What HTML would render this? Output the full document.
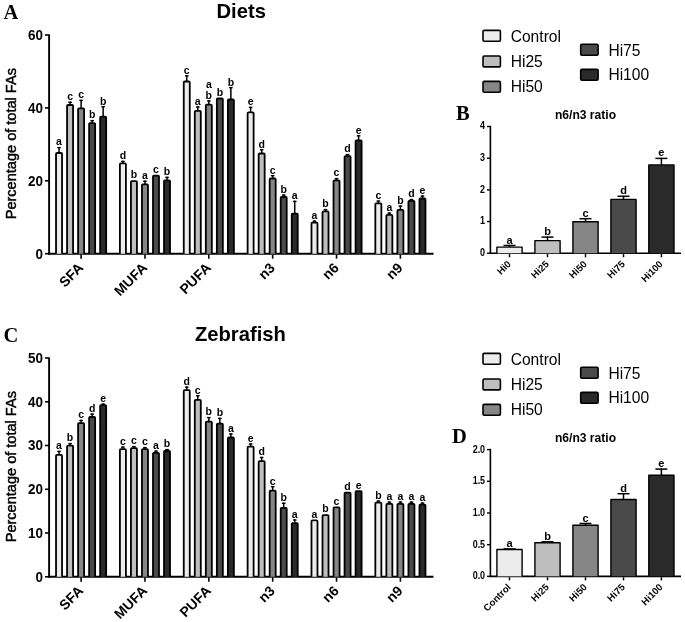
<!DOCTYPE html>
<html><head><meta charset="utf-8"><style>
html,body{margin:0;padding:0;background:#fff;}
svg{display:block;will-change:transform;}
</style></head><body>
<svg width="685" height="622" viewBox="0 0 685 622">
<rect width="685" height="622" fill="#fff"/>
<line x1="49.1" y1="34.5" x2="49.1" y2="254.64999999999998" stroke="#000" stroke-width="1.9" stroke-linecap="butt"/>
<line x1="48.15" y1="253.7" x2="433.5" y2="253.7" stroke="#000" stroke-width="1.9" stroke-linecap="butt"/>
<line x1="45" y1="253.7" x2="49.1" y2="253.7" stroke="#000" stroke-width="1.6" stroke-linecap="butt"/>
<text transform="translate(42.90,258.65) scale(0.89,1)" font-family='"Liberation Sans", sans-serif' font-size="15.1" font-weight="bold" text-anchor="end" >0</text>
<line x1="45" y1="180.8" x2="49.1" y2="180.8" stroke="#000" stroke-width="1.6" stroke-linecap="butt"/>
<text transform="translate(42.90,185.75) scale(0.89,1)" font-family='"Liberation Sans", sans-serif' font-size="15.1" font-weight="bold" text-anchor="end" >20</text>
<line x1="45" y1="107.9" x2="49.1" y2="107.9" stroke="#000" stroke-width="1.6" stroke-linecap="butt"/>
<text transform="translate(42.90,112.85) scale(0.89,1)" font-family='"Liberation Sans", sans-serif' font-size="15.1" font-weight="bold" text-anchor="end" >40</text>
<line x1="45" y1="35.0" x2="49.1" y2="35.0" stroke="#000" stroke-width="1.6" stroke-linecap="butt"/>
<text transform="translate(42.90,39.95) scale(0.89,1)" font-family='"Liberation Sans", sans-serif' font-size="15.1" font-weight="bold" text-anchor="end" >60</text>
<line x1="81.1" y1="254.6" x2="81.1" y2="258.7" stroke="#000" stroke-width="1.6" stroke-linecap="butt"/>
<path d="M56.04,253.70 V153.90 Q56.04,153.00 56.94,153.00 H61.14 Q62.04,153.00 62.04,153.90 V253.70" fill="#ececec" stroke="#000" stroke-width="1.8" stroke-linejoin="round"/>
<line x1="59.03999999999999" y1="152.6" x2="59.03999999999999" y2="146.9" stroke="#000" stroke-width="1.5" stroke-linecap="butt"/>
<line x1="57.239999999999995" y1="147.6" x2="60.83999999999999" y2="147.6" stroke="#000" stroke-width="1.4" stroke-linecap="butt"/>
<text x="59.03999999999999" y="145.4" font-family='"Liberation Sans", sans-serif' font-size="10.5" font-weight="bold" text-anchor="middle" >a</text>
<path d="M67.07,253.70 V105.90 Q67.07,105.00 67.97,105.00 H72.17 Q73.07,105.00 73.07,105.90 V253.70" fill="#bebebe" stroke="#000" stroke-width="1.8" stroke-linejoin="round"/>
<line x1="70.07" y1="104.60000000000001" x2="70.07" y2="101.60000000000001" stroke="#000" stroke-width="1.5" stroke-linecap="butt"/>
<line x1="68.27" y1="102.30000000000001" x2="71.86999999999999" y2="102.30000000000001" stroke="#000" stroke-width="1.4" stroke-linecap="butt"/>
<text x="70.07" y="100.10000000000001" font-family='"Liberation Sans", sans-serif' font-size="10.5" font-weight="bold" text-anchor="middle" >c</text>
<path d="M78.10,253.70 V109.20 Q78.10,108.30 79.00,108.30 H83.20 Q84.10,108.30 84.10,109.20 V253.70" fill="#868686" stroke="#000" stroke-width="1.8" stroke-linejoin="round"/>
<line x1="81.1" y1="107.9" x2="81.1" y2="99.7" stroke="#000" stroke-width="1.5" stroke-linecap="butt"/>
<line x1="79.3" y1="100.4" x2="82.89999999999999" y2="100.4" stroke="#000" stroke-width="1.4" stroke-linecap="butt"/>
<text x="81.1" y="98.2" font-family='"Liberation Sans", sans-serif' font-size="10.5" font-weight="bold" text-anchor="middle" >c</text>
<path d="M89.13,253.70 V124.00 Q89.13,123.10 90.03,123.10 H94.23 Q95.13,123.10 95.13,124.00 V253.70" fill="#4a4a4a" stroke="#000" stroke-width="1.8" stroke-linejoin="round"/>
<line x1="92.13" y1="122.7" x2="92.13" y2="119.9" stroke="#000" stroke-width="1.5" stroke-linecap="butt"/>
<line x1="90.33" y1="120.60000000000001" x2="93.92999999999999" y2="120.60000000000001" stroke="#000" stroke-width="1.4" stroke-linecap="butt"/>
<text x="92.13" y="118.4" font-family='"Liberation Sans", sans-serif' font-size="10.5" font-weight="bold" text-anchor="middle" >b</text>
<path d="M100.16,253.70 V117.50 Q100.16,116.60 101.06,116.60 H105.26 Q106.16,116.60 106.16,117.50 V253.70" fill="#2a2a2a" stroke="#000" stroke-width="1.8" stroke-linejoin="round"/>
<line x1="103.16" y1="116.2" x2="103.16" y2="106.0" stroke="#000" stroke-width="1.5" stroke-linecap="butt"/>
<line x1="101.36" y1="106.7" x2="104.96" y2="106.7" stroke="#000" stroke-width="1.4" stroke-linecap="butt"/>
<text x="103.16" y="104.5" font-family='"Liberation Sans", sans-serif' font-size="10.5" font-weight="bold" text-anchor="middle" >b</text>
<text transform="translate(84.19999999999999,268.7) rotate(-45)" font-family='"Liberation Sans", sans-serif' font-size="14.0" font-weight="bold" text-anchor="end">SFA</text>
<line x1="144.95999999999998" y1="254.6" x2="144.95999999999998" y2="258.7" stroke="#000" stroke-width="1.6" stroke-linecap="butt"/>
<path d="M119.90,253.70 V164.20 Q119.90,163.30 120.80,163.30 H125.00 Q125.90,163.30 125.90,164.20 V253.70" fill="#ececec" stroke="#000" stroke-width="1.8" stroke-linejoin="round"/>
<line x1="122.89999999999998" y1="162.9" x2="122.89999999999998" y2="160.70000000000002" stroke="#000" stroke-width="1.5" stroke-linecap="butt"/>
<line x1="121.09999999999998" y1="161.4" x2="124.69999999999997" y2="161.4" stroke="#000" stroke-width="1.4" stroke-linecap="butt"/>
<text x="122.89999999999998" y="159.20000000000002" font-family='"Liberation Sans", sans-serif' font-size="10.5" font-weight="bold" text-anchor="middle" >d</text>
<path d="M130.93,253.70 V182.10 Q130.93,181.20 131.83,181.20 H136.03 Q136.93,181.20 136.93,182.10 V253.70" fill="#bebebe" stroke="#000" stroke-width="1.8" stroke-linejoin="round"/>
<text x="133.92999999999998" y="178.3" font-family='"Liberation Sans", sans-serif' font-size="10.5" font-weight="bold" text-anchor="middle" >b</text>
<path d="M141.96,253.70 V185.30 Q141.96,184.40 142.86,184.40 H147.06 Q147.96,184.40 147.96,185.30 V253.70" fill="#868686" stroke="#000" stroke-width="1.8" stroke-linejoin="round"/>
<line x1="144.95999999999998" y1="184.0" x2="144.95999999999998" y2="180.6" stroke="#000" stroke-width="1.5" stroke-linecap="butt"/>
<line x1="143.15999999999997" y1="181.29999999999998" x2="146.76" y2="181.29999999999998" stroke="#000" stroke-width="1.4" stroke-linecap="butt"/>
<text x="144.95999999999998" y="179.1" font-family='"Liberation Sans", sans-serif' font-size="10.5" font-weight="bold" text-anchor="middle" >a</text>
<path d="M152.99,253.70 V176.50 Q152.99,175.60 153.89,175.60 H158.09 Q158.99,175.60 158.99,176.50 V253.70" fill="#4a4a4a" stroke="#000" stroke-width="1.8" stroke-linejoin="round"/>
<text x="155.98999999999998" y="172.6" font-family='"Liberation Sans", sans-serif' font-size="10.5" font-weight="bold" text-anchor="middle" >c</text>
<path d="M164.02,253.70 V181.30 Q164.02,180.40 164.92,180.40 H169.12 Q170.02,180.40 170.02,181.30 V253.70" fill="#2a2a2a" stroke="#000" stroke-width="1.8" stroke-linejoin="round"/>
<line x1="167.01999999999998" y1="180.0" x2="167.01999999999998" y2="176.70000000000002" stroke="#000" stroke-width="1.5" stroke-linecap="butt"/>
<line x1="165.21999999999997" y1="177.4" x2="168.82" y2="177.4" stroke="#000" stroke-width="1.4" stroke-linecap="butt"/>
<text x="167.01999999999998" y="175.20000000000002" font-family='"Liberation Sans", sans-serif' font-size="10.5" font-weight="bold" text-anchor="middle" >b</text>
<text transform="translate(148.05999999999997,268.7) rotate(-45)" font-family='"Liberation Sans", sans-serif' font-size="14.0" font-weight="bold" text-anchor="end">MUFA</text>
<line x1="208.82" y1="254.6" x2="208.82" y2="258.7" stroke="#000" stroke-width="1.6" stroke-linecap="butt"/>
<path d="M183.76,253.70 V82.40 Q183.76,81.50 184.66,81.50 H188.86 Q189.76,81.50 189.76,82.40 V253.70" fill="#ececec" stroke="#000" stroke-width="1.8" stroke-linejoin="round"/>
<line x1="186.76" y1="81.10000000000001" x2="186.76" y2="75.2" stroke="#000" stroke-width="1.5" stroke-linecap="butt"/>
<line x1="184.95999999999998" y1="75.9" x2="188.56" y2="75.9" stroke="#000" stroke-width="1.4" stroke-linecap="butt"/>
<text x="186.76" y="73.7" font-family='"Liberation Sans", sans-serif' font-size="10.5" font-weight="bold" text-anchor="middle" >c</text>
<path d="M194.79,253.70 V111.70 Q194.79,110.80 195.69,110.80 H199.89 Q200.79,110.80 200.79,111.70 V253.70" fill="#bebebe" stroke="#000" stroke-width="1.8" stroke-linejoin="round"/>
<line x1="197.79" y1="110.4" x2="197.79" y2="106.30000000000001" stroke="#000" stroke-width="1.5" stroke-linecap="butt"/>
<line x1="195.98999999999998" y1="107.00000000000001" x2="199.59" y2="107.00000000000001" stroke="#000" stroke-width="1.4" stroke-linecap="butt"/>
<text x="197.79" y="104.80000000000001" font-family='"Liberation Sans", sans-serif' font-size="10.5" font-weight="bold" text-anchor="middle" >a</text>
<path d="M205.82,253.70 V105.60 Q205.82,104.70 206.72,104.70 H210.92 Q211.82,104.70 211.82,105.60 V253.70" fill="#868686" stroke="#000" stroke-width="1.8" stroke-linejoin="round"/>
<line x1="208.82" y1="104.30000000000001" x2="208.82" y2="100.30000000000001" stroke="#000" stroke-width="1.5" stroke-linecap="butt"/>
<line x1="207.01999999999998" y1="101.00000000000001" x2="210.62" y2="101.00000000000001" stroke="#000" stroke-width="1.4" stroke-linecap="butt"/>
<text x="208.82" y="98.60000000000001" font-family='"Liberation Sans", sans-serif' font-size="10.5" font-weight="bold" text-anchor="middle" >b</text>
<text x="208.82" y="88.4" font-family='"Liberation Sans", sans-serif' font-size="10.5" font-weight="bold" text-anchor="middle" >a</text>
<path d="M216.85,253.70 V99.40 Q216.85,98.50 217.75,98.50 H221.95 Q222.85,98.50 222.85,99.40 V253.70" fill="#4a4a4a" stroke="#000" stroke-width="1.8" stroke-linejoin="round"/>
<text x="219.85" y="96.2" font-family='"Liberation Sans", sans-serif' font-size="10.5" font-weight="bold" text-anchor="middle" >b</text>
<path d="M227.88,253.70 V100.40 Q227.88,99.50 228.78,99.50 H232.98 Q233.88,99.50 233.88,100.40 V253.70" fill="#2a2a2a" stroke="#000" stroke-width="1.8" stroke-linejoin="round"/>
<line x1="230.88" y1="99.10000000000001" x2="230.88" y2="87.0" stroke="#000" stroke-width="1.5" stroke-linecap="butt"/>
<line x1="229.07999999999998" y1="87.7" x2="232.68" y2="87.7" stroke="#000" stroke-width="1.4" stroke-linecap="butt"/>
<text x="230.88" y="85.5" font-family='"Liberation Sans", sans-serif' font-size="10.5" font-weight="bold" text-anchor="middle" >b</text>
<text transform="translate(211.92,268.7) rotate(-45)" font-family='"Liberation Sans", sans-serif' font-size="14.0" font-weight="bold" text-anchor="end">PUFA</text>
<line x1="272.67999999999995" y1="254.6" x2="272.67999999999995" y2="258.7" stroke="#000" stroke-width="1.6" stroke-linecap="butt"/>
<path d="M247.62,253.70 V113.30 Q247.62,112.40 248.52,112.40 H252.72 Q253.62,112.40 253.62,113.30 V253.70" fill="#ececec" stroke="#000" stroke-width="1.8" stroke-linejoin="round"/>
<line x1="250.61999999999995" y1="112.0" x2="250.61999999999995" y2="106.7" stroke="#000" stroke-width="1.5" stroke-linecap="butt"/>
<line x1="248.81999999999994" y1="107.4" x2="252.41999999999996" y2="107.4" stroke="#000" stroke-width="1.4" stroke-linecap="butt"/>
<text x="250.61999999999995" y="105.2" font-family='"Liberation Sans", sans-serif' font-size="10.5" font-weight="bold" text-anchor="middle" >e</text>
<path d="M258.65,253.70 V154.40 Q258.65,153.50 259.55,153.50 H263.75 Q264.65,153.50 264.65,154.40 V253.70" fill="#bebebe" stroke="#000" stroke-width="1.8" stroke-linejoin="round"/>
<line x1="261.65" y1="153.1" x2="261.65" y2="149.1" stroke="#000" stroke-width="1.5" stroke-linecap="butt"/>
<line x1="259.84999999999997" y1="149.79999999999998" x2="263.45" y2="149.79999999999998" stroke="#000" stroke-width="1.4" stroke-linecap="butt"/>
<text x="261.65" y="147.6" font-family='"Liberation Sans", sans-serif' font-size="10.5" font-weight="bold" text-anchor="middle" >d</text>
<path d="M269.68,253.70 V179.40 Q269.68,178.50 270.58,178.50 H274.78 Q275.68,178.50 275.68,179.40 V253.70" fill="#868686" stroke="#000" stroke-width="1.8" stroke-linejoin="round"/>
<line x1="272.67999999999995" y1="178.1" x2="272.67999999999995" y2="175.0" stroke="#000" stroke-width="1.5" stroke-linecap="butt"/>
<line x1="270.87999999999994" y1="175.7" x2="274.47999999999996" y2="175.7" stroke="#000" stroke-width="1.4" stroke-linecap="butt"/>
<text x="272.67999999999995" y="173.5" font-family='"Liberation Sans", sans-serif' font-size="10.5" font-weight="bold" text-anchor="middle" >c</text>
<path d="M280.71,253.70 V197.90 Q280.71,197.00 281.61,197.00 H285.81 Q286.71,197.00 286.71,197.90 V253.70" fill="#4a4a4a" stroke="#000" stroke-width="1.8" stroke-linejoin="round"/>
<line x1="283.7099999999999" y1="196.6" x2="283.7099999999999" y2="194.4" stroke="#000" stroke-width="1.5" stroke-linecap="butt"/>
<line x1="281.9099999999999" y1="195.1" x2="285.50999999999993" y2="195.1" stroke="#000" stroke-width="1.4" stroke-linecap="butt"/>
<text x="283.7099999999999" y="192.9" font-family='"Liberation Sans", sans-serif' font-size="10.5" font-weight="bold" text-anchor="middle" >b</text>
<path d="M291.74,253.70 V214.60 Q291.74,213.70 292.64,213.70 H296.84 Q297.74,213.70 297.74,214.60 V253.70" fill="#2a2a2a" stroke="#000" stroke-width="1.8" stroke-linejoin="round"/>
<line x1="294.7399999999999" y1="213.3" x2="294.7399999999999" y2="200.70000000000002" stroke="#000" stroke-width="1.5" stroke-linecap="butt"/>
<line x1="292.9399999999999" y1="201.4" x2="296.5399999999999" y2="201.4" stroke="#000" stroke-width="1.4" stroke-linecap="butt"/>
<text x="294.7399999999999" y="199.20000000000002" font-family='"Liberation Sans", sans-serif' font-size="10.5" font-weight="bold" text-anchor="middle" >a</text>
<text transform="translate(275.78,268.7) rotate(-45)" font-family='"Liberation Sans", sans-serif' font-size="14.0" font-weight="bold" text-anchor="end">n3</text>
<line x1="336.53999999999996" y1="254.6" x2="336.53999999999996" y2="258.7" stroke="#000" stroke-width="1.6" stroke-linecap="butt"/>
<path d="M311.48,253.70 V223.60 Q311.48,222.70 312.38,222.70 H316.58 Q317.48,222.70 317.48,223.60 V253.70" fill="#ececec" stroke="#000" stroke-width="1.8" stroke-linejoin="round"/>
<line x1="314.48" y1="222.3" x2="314.48" y2="220.4" stroke="#000" stroke-width="1.5" stroke-linecap="butt"/>
<line x1="312.68" y1="221.1" x2="316.28000000000003" y2="221.1" stroke="#000" stroke-width="1.4" stroke-linecap="butt"/>
<text x="314.48" y="218.9" font-family='"Liberation Sans", sans-serif' font-size="10.5" font-weight="bold" text-anchor="middle" >a</text>
<path d="M322.51,253.70 V212.30 Q322.51,211.40 323.41,211.40 H327.61 Q328.51,211.40 328.51,212.30 V253.70" fill="#bebebe" stroke="#000" stroke-width="1.8" stroke-linejoin="round"/>
<line x1="325.51" y1="211.0" x2="325.51" y2="208.9" stroke="#000" stroke-width="1.5" stroke-linecap="butt"/>
<line x1="323.71" y1="209.6" x2="327.31" y2="209.6" stroke="#000" stroke-width="1.4" stroke-linecap="butt"/>
<text x="325.51" y="207.4" font-family='"Liberation Sans", sans-serif' font-size="10.5" font-weight="bold" text-anchor="middle" >b</text>
<path d="M333.54,253.70 V181.20 Q333.54,180.30 334.44,180.30 H338.64 Q339.54,180.30 339.54,181.20 V253.70" fill="#868686" stroke="#000" stroke-width="1.8" stroke-linejoin="round"/>
<line x1="336.53999999999996" y1="179.9" x2="336.53999999999996" y2="177.9" stroke="#000" stroke-width="1.5" stroke-linecap="butt"/>
<line x1="334.73999999999995" y1="178.6" x2="338.34" y2="178.6" stroke="#000" stroke-width="1.4" stroke-linecap="butt"/>
<text x="336.53999999999996" y="176.4" font-family='"Liberation Sans", sans-serif' font-size="10.5" font-weight="bold" text-anchor="middle" >c</text>
<path d="M344.57,253.70 V157.00 Q344.57,156.10 345.47,156.10 H349.67 Q350.57,156.10 350.57,157.00 V253.70" fill="#4a4a4a" stroke="#000" stroke-width="1.8" stroke-linejoin="round"/>
<line x1="347.56999999999994" y1="155.70000000000002" x2="347.56999999999994" y2="153.9" stroke="#000" stroke-width="1.5" stroke-linecap="butt"/>
<line x1="345.7699999999999" y1="154.6" x2="349.36999999999995" y2="154.6" stroke="#000" stroke-width="1.4" stroke-linecap="butt"/>
<text x="347.56999999999994" y="152.4" font-family='"Liberation Sans", sans-serif' font-size="10.5" font-weight="bold" text-anchor="middle" >d</text>
<path d="M355.60,253.70 V141.30 Q355.60,140.40 356.50,140.40 H360.70 Q361.60,140.40 361.60,141.30 V253.70" fill="#2a2a2a" stroke="#000" stroke-width="1.8" stroke-linejoin="round"/>
<line x1="358.6" y1="140.0" x2="358.6" y2="135.1" stroke="#000" stroke-width="1.5" stroke-linecap="butt"/>
<line x1="356.8" y1="135.79999999999998" x2="360.40000000000003" y2="135.79999999999998" stroke="#000" stroke-width="1.4" stroke-linecap="butt"/>
<text x="358.6" y="133.6" font-family='"Liberation Sans", sans-serif' font-size="10.5" font-weight="bold" text-anchor="middle" >e</text>
<text transform="translate(339.64,268.7) rotate(-45)" font-family='"Liberation Sans", sans-serif' font-size="14.0" font-weight="bold" text-anchor="end">n6</text>
<line x1="400.4" y1="254.6" x2="400.4" y2="258.7" stroke="#000" stroke-width="1.6" stroke-linecap="butt"/>
<path d="M375.34,253.70 V204.20 Q375.34,203.30 376.24,203.30 H380.44 Q381.34,203.30 381.34,204.20 V253.70" fill="#ececec" stroke="#000" stroke-width="1.8" stroke-linejoin="round"/>
<line x1="378.34000000000003" y1="202.9" x2="378.34000000000003" y2="200.4" stroke="#000" stroke-width="1.5" stroke-linecap="butt"/>
<line x1="376.54" y1="201.1" x2="380.14000000000004" y2="201.1" stroke="#000" stroke-width="1.4" stroke-linecap="butt"/>
<text x="378.34000000000003" y="198.9" font-family='"Liberation Sans", sans-serif' font-size="10.5" font-weight="bold" text-anchor="middle" >c</text>
<path d="M386.37,253.70 V215.80 Q386.37,214.90 387.27,214.90 H391.47 Q392.37,214.90 392.37,215.80 V253.70" fill="#bebebe" stroke="#000" stroke-width="1.8" stroke-linejoin="round"/>
<line x1="389.37" y1="214.5" x2="389.37" y2="212.4" stroke="#000" stroke-width="1.5" stroke-linecap="butt"/>
<line x1="387.57" y1="213.1" x2="391.17" y2="213.1" stroke="#000" stroke-width="1.4" stroke-linecap="butt"/>
<text x="389.37" y="210.9" font-family='"Liberation Sans", sans-serif' font-size="10.5" font-weight="bold" text-anchor="middle" >a</text>
<path d="M397.40,253.70 V210.70 Q397.40,209.80 398.30,209.80 H402.50 Q403.40,209.80 403.40,210.70 V253.70" fill="#868686" stroke="#000" stroke-width="1.8" stroke-linejoin="round"/>
<line x1="400.4" y1="209.4" x2="400.4" y2="205.4" stroke="#000" stroke-width="1.5" stroke-linecap="butt"/>
<line x1="398.59999999999997" y1="206.1" x2="402.2" y2="206.1" stroke="#000" stroke-width="1.4" stroke-linecap="butt"/>
<text x="400.4" y="203.9" font-family='"Liberation Sans", sans-serif' font-size="10.5" font-weight="bold" text-anchor="middle" >b</text>
<path d="M408.43,253.70 V201.80 Q408.43,200.90 409.33,200.90 H413.53 Q414.43,200.90 414.43,201.80 V253.70" fill="#4a4a4a" stroke="#000" stroke-width="1.8" stroke-linejoin="round"/>
<line x1="411.42999999999995" y1="200.5" x2="411.42999999999995" y2="198.9" stroke="#000" stroke-width="1.5" stroke-linecap="butt"/>
<line x1="409.62999999999994" y1="199.6" x2="413.22999999999996" y2="199.6" stroke="#000" stroke-width="1.4" stroke-linecap="butt"/>
<text x="411.42999999999995" y="197.4" font-family='"Liberation Sans", sans-serif' font-size="10.5" font-weight="bold" text-anchor="middle" >d</text>
<path d="M419.46,253.70 V199.40 Q419.46,198.50 420.36,198.50 H424.56 Q425.46,198.50 425.46,199.40 V253.70" fill="#2a2a2a" stroke="#000" stroke-width="1.8" stroke-linejoin="round"/>
<line x1="422.46000000000004" y1="198.1" x2="422.46000000000004" y2="195.4" stroke="#000" stroke-width="1.5" stroke-linecap="butt"/>
<line x1="420.66" y1="196.1" x2="424.26000000000005" y2="196.1" stroke="#000" stroke-width="1.4" stroke-linecap="butt"/>
<text x="422.46000000000004" y="193.9" font-family='"Liberation Sans", sans-serif' font-size="10.5" font-weight="bold" text-anchor="middle" >e</text>
<text transform="translate(403.5,268.7) rotate(-45)" font-family='"Liberation Sans", sans-serif' font-size="14.0" font-weight="bold" text-anchor="end">n9</text>
<text transform="translate(16.3,219.3) rotate(-90)" font-family='"Liberation Sans", sans-serif' font-size="14.55" stroke="#000" stroke-width="0.45">Percentage of total FAs</text>
<text x="241.2" y="18.4" font-family='"Liberation Sans", sans-serif' font-size="20.2" font-weight="bold" text-anchor="middle" >Diets</text>
<text x="3.6" y="18.6" font-family='"Liberation Serif", serif' font-size="20.5" font-weight="bold" text-anchor="start" >A</text>
<line x1="49.1" y1="357.5" x2="49.1" y2="577.6500000000001" stroke="#000" stroke-width="1.9" stroke-linecap="butt"/>
<line x1="48.15" y1="576.7" x2="433.5" y2="576.7" stroke="#000" stroke-width="1.9" stroke-linecap="butt"/>
<line x1="45" y1="576.8" x2="49.1" y2="576.8" stroke="#000" stroke-width="1.6" stroke-linecap="butt"/>
<text transform="translate(42.90,581.75) scale(0.89,1)" font-family='"Liberation Sans", sans-serif' font-size="15.1" font-weight="bold" text-anchor="end" >0</text>
<line x1="45" y1="533.0" x2="49.1" y2="533.0" stroke="#000" stroke-width="1.6" stroke-linecap="butt"/>
<text transform="translate(42.90,537.95) scale(0.89,1)" font-family='"Liberation Sans", sans-serif' font-size="15.1" font-weight="bold" text-anchor="end" >10</text>
<line x1="45" y1="489.3" x2="49.1" y2="489.3" stroke="#000" stroke-width="1.6" stroke-linecap="butt"/>
<text transform="translate(42.90,494.25) scale(0.89,1)" font-family='"Liberation Sans", sans-serif' font-size="15.1" font-weight="bold" text-anchor="end" >20</text>
<line x1="45" y1="445.5" x2="49.1" y2="445.5" stroke="#000" stroke-width="1.6" stroke-linecap="butt"/>
<text transform="translate(42.90,450.45) scale(0.89,1)" font-family='"Liberation Sans", sans-serif' font-size="15.1" font-weight="bold" text-anchor="end" >30</text>
<line x1="45" y1="401.8" x2="49.1" y2="401.8" stroke="#000" stroke-width="1.6" stroke-linecap="butt"/>
<text transform="translate(42.90,406.75) scale(0.89,1)" font-family='"Liberation Sans", sans-serif' font-size="15.1" font-weight="bold" text-anchor="end" >40</text>
<line x1="45" y1="358.0" x2="49.1" y2="358.0" stroke="#000" stroke-width="1.6" stroke-linecap="butt"/>
<text transform="translate(42.90,362.95) scale(0.89,1)" font-family='"Liberation Sans", sans-serif' font-size="15.1" font-weight="bold" text-anchor="end" >50</text>
<line x1="81.1" y1="577.6" x2="81.1" y2="581.7" stroke="#000" stroke-width="1.6" stroke-linecap="butt"/>
<path d="M56.04,576.70 V455.70 Q56.04,454.80 56.94,454.80 H61.14 Q62.04,454.80 62.04,455.70 V576.70" fill="#ececec" stroke="#000" stroke-width="1.8" stroke-linejoin="round"/>
<line x1="59.03999999999999" y1="454.4" x2="59.03999999999999" y2="450.7" stroke="#000" stroke-width="1.5" stroke-linecap="butt"/>
<line x1="57.239999999999995" y1="451.4" x2="60.83999999999999" y2="451.4" stroke="#000" stroke-width="1.4" stroke-linecap="butt"/>
<text x="59.03999999999999" y="449.2" font-family='"Liberation Sans", sans-serif' font-size="10.5" font-weight="bold" text-anchor="middle" >a</text>
<path d="M67.07,576.70 V446.50 Q67.07,445.60 67.97,445.60 H72.17 Q73.07,445.60 73.07,446.50 V576.70" fill="#bebebe" stroke="#000" stroke-width="1.8" stroke-linejoin="round"/>
<line x1="70.07" y1="445.2" x2="70.07" y2="442.9" stroke="#000" stroke-width="1.5" stroke-linecap="butt"/>
<line x1="68.27" y1="443.59999999999997" x2="71.86999999999999" y2="443.59999999999997" stroke="#000" stroke-width="1.4" stroke-linecap="butt"/>
<text x="70.07" y="441.4" font-family='"Liberation Sans", sans-serif' font-size="10.5" font-weight="bold" text-anchor="middle" >b</text>
<path d="M78.10,576.70 V424.10 Q78.10,423.20 79.00,423.20 H83.20 Q84.10,423.20 84.10,424.10 V576.70" fill="#868686" stroke="#000" stroke-width="1.8" stroke-linejoin="round"/>
<line x1="81.1" y1="422.79999999999995" x2="81.1" y2="419.79999999999995" stroke="#000" stroke-width="1.5" stroke-linecap="butt"/>
<line x1="79.3" y1="420.49999999999994" x2="82.89999999999999" y2="420.49999999999994" stroke="#000" stroke-width="1.4" stroke-linecap="butt"/>
<text x="81.1" y="418.29999999999995" font-family='"Liberation Sans", sans-serif' font-size="10.5" font-weight="bold" text-anchor="middle" >c</text>
<path d="M89.13,576.70 V417.90 Q89.13,417.00 90.03,417.00 H94.23 Q95.13,417.00 95.13,417.90 V576.70" fill="#4a4a4a" stroke="#000" stroke-width="1.8" stroke-linejoin="round"/>
<line x1="92.13" y1="416.59999999999997" x2="92.13" y2="413.4" stroke="#000" stroke-width="1.5" stroke-linecap="butt"/>
<line x1="90.33" y1="414.09999999999997" x2="93.92999999999999" y2="414.09999999999997" stroke="#000" stroke-width="1.4" stroke-linecap="butt"/>
<text x="92.13" y="411.9" font-family='"Liberation Sans", sans-serif' font-size="10.5" font-weight="bold" text-anchor="middle" >d</text>
<path d="M100.16,576.70 V406.00 Q100.16,405.10 101.06,405.10 H105.26 Q106.16,405.10 106.16,406.00 V576.70" fill="#2a2a2a" stroke="#000" stroke-width="1.8" stroke-linejoin="round"/>
<line x1="103.16" y1="404.7" x2="103.16" y2="403.4" stroke="#000" stroke-width="1.5" stroke-linecap="butt"/>
<line x1="101.36" y1="404.09999999999997" x2="104.96" y2="404.09999999999997" stroke="#000" stroke-width="1.4" stroke-linecap="butt"/>
<text x="103.16" y="401.9" font-family='"Liberation Sans", sans-serif' font-size="10.5" font-weight="bold" text-anchor="middle" >e</text>
<text transform="translate(84.19999999999999,591.7) rotate(-45)" font-family='"Liberation Sans", sans-serif' font-size="14.0" font-weight="bold" text-anchor="end">SFA</text>
<line x1="144.95999999999998" y1="577.6" x2="144.95999999999998" y2="581.7" stroke="#000" stroke-width="1.6" stroke-linecap="butt"/>
<path d="M119.90,576.70 V450.00 Q119.90,449.10 120.80,449.10 H125.00 Q125.90,449.10 125.90,450.00 V576.70" fill="#ececec" stroke="#000" stroke-width="1.8" stroke-linejoin="round"/>
<line x1="122.89999999999998" y1="448.7" x2="122.89999999999998" y2="446.4" stroke="#000" stroke-width="1.5" stroke-linecap="butt"/>
<line x1="121.09999999999998" y1="447.09999999999997" x2="124.69999999999997" y2="447.09999999999997" stroke="#000" stroke-width="1.4" stroke-linecap="butt"/>
<text x="122.89999999999998" y="444.9" font-family='"Liberation Sans", sans-serif' font-size="10.5" font-weight="bold" text-anchor="middle" >c</text>
<path d="M130.93,576.70 V449.00 Q130.93,448.10 131.83,448.10 H136.03 Q136.93,448.10 136.93,449.00 V576.70" fill="#bebebe" stroke="#000" stroke-width="1.8" stroke-linejoin="round"/>
<line x1="133.92999999999998" y1="447.7" x2="133.92999999999998" y2="445.9" stroke="#000" stroke-width="1.5" stroke-linecap="butt"/>
<line x1="132.12999999999997" y1="446.59999999999997" x2="135.73" y2="446.59999999999997" stroke="#000" stroke-width="1.4" stroke-linecap="butt"/>
<text x="133.92999999999998" y="444.4" font-family='"Liberation Sans", sans-serif' font-size="10.5" font-weight="bold" text-anchor="middle" >c</text>
<path d="M141.96,576.70 V450.00 Q141.96,449.10 142.86,449.10 H147.06 Q147.96,449.10 147.96,450.00 V576.70" fill="#868686" stroke="#000" stroke-width="1.8" stroke-linejoin="round"/>
<line x1="144.95999999999998" y1="448.7" x2="144.95999999999998" y2="446.9" stroke="#000" stroke-width="1.5" stroke-linecap="butt"/>
<line x1="143.15999999999997" y1="447.59999999999997" x2="146.76" y2="447.59999999999997" stroke="#000" stroke-width="1.4" stroke-linecap="butt"/>
<text x="144.95999999999998" y="445.4" font-family='"Liberation Sans", sans-serif' font-size="10.5" font-weight="bold" text-anchor="middle" >c</text>
<path d="M152.99,576.70 V453.80 Q152.99,452.90 153.89,452.90 H158.09 Q158.99,452.90 158.99,453.80 V576.70" fill="#4a4a4a" stroke="#000" stroke-width="1.8" stroke-linejoin="round"/>
<line x1="155.98999999999998" y1="452.5" x2="155.98999999999998" y2="450.4" stroke="#000" stroke-width="1.5" stroke-linecap="butt"/>
<line x1="154.18999999999997" y1="451.09999999999997" x2="157.79" y2="451.09999999999997" stroke="#000" stroke-width="1.4" stroke-linecap="butt"/>
<text x="155.98999999999998" y="448.9" font-family='"Liberation Sans", sans-serif' font-size="10.5" font-weight="bold" text-anchor="middle" >a</text>
<path d="M164.02,576.70 V451.90 Q164.02,451.00 164.92,451.00 H169.12 Q170.02,451.00 170.02,451.90 V576.70" fill="#2a2a2a" stroke="#000" stroke-width="1.8" stroke-linejoin="round"/>
<line x1="167.01999999999998" y1="450.59999999999997" x2="167.01999999999998" y2="448.9" stroke="#000" stroke-width="1.5" stroke-linecap="butt"/>
<line x1="165.21999999999997" y1="449.59999999999997" x2="168.82" y2="449.59999999999997" stroke="#000" stroke-width="1.4" stroke-linecap="butt"/>
<text x="167.01999999999998" y="447.4" font-family='"Liberation Sans", sans-serif' font-size="10.5" font-weight="bold" text-anchor="middle" >b</text>
<text transform="translate(148.05999999999997,591.7) rotate(-45)" font-family='"Liberation Sans", sans-serif' font-size="14.0" font-weight="bold" text-anchor="end">MUFA</text>
<line x1="208.82" y1="577.6" x2="208.82" y2="581.7" stroke="#000" stroke-width="1.6" stroke-linecap="butt"/>
<path d="M183.76,576.70 V391.10 Q183.76,390.20 184.66,390.20 H188.86 Q189.76,390.20 189.76,391.10 V576.70" fill="#ececec" stroke="#000" stroke-width="1.8" stroke-linejoin="round"/>
<line x1="186.76" y1="389.79999999999995" x2="186.76" y2="386.4" stroke="#000" stroke-width="1.5" stroke-linecap="butt"/>
<line x1="184.95999999999998" y1="387.09999999999997" x2="188.56" y2="387.09999999999997" stroke="#000" stroke-width="1.4" stroke-linecap="butt"/>
<text x="186.76" y="384.9" font-family='"Liberation Sans", sans-serif' font-size="10.5" font-weight="bold" text-anchor="middle" >d</text>
<path d="M194.79,576.70 V400.80 Q194.79,399.90 195.69,399.90 H199.89 Q200.79,399.90 200.79,400.80 V576.70" fill="#bebebe" stroke="#000" stroke-width="1.8" stroke-linejoin="round"/>
<line x1="197.79" y1="399.5" x2="197.79" y2="395.09999999999997" stroke="#000" stroke-width="1.5" stroke-linecap="butt"/>
<line x1="195.98999999999998" y1="395.79999999999995" x2="199.59" y2="395.79999999999995" stroke="#000" stroke-width="1.4" stroke-linecap="butt"/>
<text x="197.79" y="393.59999999999997" font-family='"Liberation Sans", sans-serif' font-size="10.5" font-weight="bold" text-anchor="middle" >c</text>
<path d="M205.82,576.70 V422.60 Q205.82,421.70 206.72,421.70 H210.92 Q211.82,421.70 211.82,422.60 V576.70" fill="#868686" stroke="#000" stroke-width="1.8" stroke-linejoin="round"/>
<line x1="208.82" y1="421.29999999999995" x2="208.82" y2="416.9" stroke="#000" stroke-width="1.5" stroke-linecap="butt"/>
<line x1="207.01999999999998" y1="417.59999999999997" x2="210.62" y2="417.59999999999997" stroke="#000" stroke-width="1.4" stroke-linecap="butt"/>
<text x="208.82" y="415.4" font-family='"Liberation Sans", sans-serif' font-size="10.5" font-weight="bold" text-anchor="middle" >b</text>
<path d="M216.85,576.70 V424.50 Q216.85,423.60 217.75,423.60 H221.95 Q222.85,423.60 222.85,424.50 V576.70" fill="#4a4a4a" stroke="#000" stroke-width="1.8" stroke-linejoin="round"/>
<line x1="219.85" y1="423.2" x2="219.85" y2="417.7" stroke="#000" stroke-width="1.5" stroke-linecap="butt"/>
<line x1="218.04999999999998" y1="418.4" x2="221.65" y2="418.4" stroke="#000" stroke-width="1.4" stroke-linecap="butt"/>
<text x="219.85" y="416.2" font-family='"Liberation Sans", sans-serif' font-size="10.5" font-weight="bold" text-anchor="middle" >b</text>
<path d="M227.88,576.70 V438.40 Q227.88,437.50 228.78,437.50 H232.98 Q233.88,437.50 233.88,438.40 V576.70" fill="#2a2a2a" stroke="#000" stroke-width="1.8" stroke-linejoin="round"/>
<line x1="230.88" y1="437.09999999999997" x2="230.88" y2="433.29999999999995" stroke="#000" stroke-width="1.5" stroke-linecap="butt"/>
<line x1="229.07999999999998" y1="433.99999999999994" x2="232.68" y2="433.99999999999994" stroke="#000" stroke-width="1.4" stroke-linecap="butt"/>
<text x="230.88" y="431.79999999999995" font-family='"Liberation Sans", sans-serif' font-size="10.5" font-weight="bold" text-anchor="middle" >a</text>
<text transform="translate(211.92,591.7) rotate(-45)" font-family='"Liberation Sans", sans-serif' font-size="14.0" font-weight="bold" text-anchor="end">PUFA</text>
<line x1="272.67999999999995" y1="577.6" x2="272.67999999999995" y2="581.7" stroke="#000" stroke-width="1.6" stroke-linecap="butt"/>
<path d="M247.62,576.70 V447.60 Q247.62,446.70 248.52,446.70 H252.72 Q253.62,446.70 253.62,447.60 V576.70" fill="#ececec" stroke="#000" stroke-width="1.8" stroke-linejoin="round"/>
<line x1="250.61999999999995" y1="446.29999999999995" x2="250.61999999999995" y2="443.29999999999995" stroke="#000" stroke-width="1.5" stroke-linecap="butt"/>
<line x1="248.81999999999994" y1="443.99999999999994" x2="252.41999999999996" y2="443.99999999999994" stroke="#000" stroke-width="1.4" stroke-linecap="butt"/>
<text x="250.61999999999995" y="441.79999999999995" font-family='"Liberation Sans", sans-serif' font-size="10.5" font-weight="bold" text-anchor="middle" >e</text>
<path d="M258.65,576.70 V462.00 Q258.65,461.10 259.55,461.10 H263.75 Q264.65,461.10 264.65,462.00 V576.70" fill="#bebebe" stroke="#000" stroke-width="1.8" stroke-linejoin="round"/>
<line x1="261.65" y1="460.7" x2="261.65" y2="456.79999999999995" stroke="#000" stroke-width="1.5" stroke-linecap="butt"/>
<line x1="259.84999999999997" y1="457.49999999999994" x2="263.45" y2="457.49999999999994" stroke="#000" stroke-width="1.4" stroke-linecap="butt"/>
<text x="261.65" y="455.29999999999995" font-family='"Liberation Sans", sans-serif' font-size="10.5" font-weight="bold" text-anchor="middle" >d</text>
<path d="M269.68,576.70 V491.60 Q269.68,490.70 270.58,490.70 H274.78 Q275.68,490.70 275.68,491.60 V576.70" fill="#868686" stroke="#000" stroke-width="1.8" stroke-linejoin="round"/>
<line x1="272.67999999999995" y1="490.29999999999995" x2="272.67999999999995" y2="486.0" stroke="#000" stroke-width="1.5" stroke-linecap="butt"/>
<line x1="270.87999999999994" y1="486.7" x2="274.47999999999996" y2="486.7" stroke="#000" stroke-width="1.4" stroke-linecap="butt"/>
<text x="272.67999999999995" y="484.5" font-family='"Liberation Sans", sans-serif' font-size="10.5" font-weight="bold" text-anchor="middle" >c</text>
<path d="M280.71,576.70 V508.80 Q280.71,507.90 281.61,507.90 H285.81 Q286.71,507.90 286.71,508.80 V576.70" fill="#4a4a4a" stroke="#000" stroke-width="1.8" stroke-linejoin="round"/>
<line x1="283.7099999999999" y1="507.5" x2="283.7099999999999" y2="502.59999999999997" stroke="#000" stroke-width="1.5" stroke-linecap="butt"/>
<line x1="281.9099999999999" y1="503.29999999999995" x2="285.50999999999993" y2="503.29999999999995" stroke="#000" stroke-width="1.4" stroke-linecap="butt"/>
<text x="283.7099999999999" y="501.09999999999997" font-family='"Liberation Sans", sans-serif' font-size="10.5" font-weight="bold" text-anchor="middle" >b</text>
<path d="M291.74,576.70 V524.00 Q291.74,523.10 292.64,523.10 H296.84 Q297.74,523.10 297.74,524.00 V576.70" fill="#2a2a2a" stroke="#000" stroke-width="1.8" stroke-linejoin="round"/>
<line x1="294.7399999999999" y1="522.6999999999999" x2="294.7399999999999" y2="519.3" stroke="#000" stroke-width="1.5" stroke-linecap="butt"/>
<line x1="292.9399999999999" y1="520.0" x2="296.5399999999999" y2="520.0" stroke="#000" stroke-width="1.4" stroke-linecap="butt"/>
<text x="294.7399999999999" y="517.8" font-family='"Liberation Sans", sans-serif' font-size="10.5" font-weight="bold" text-anchor="middle" >a</text>
<text transform="translate(275.78,591.7) rotate(-45)" font-family='"Liberation Sans", sans-serif' font-size="14.0" font-weight="bold" text-anchor="end">n3</text>
<line x1="336.53999999999996" y1="577.6" x2="336.53999999999996" y2="581.7" stroke="#000" stroke-width="1.6" stroke-linecap="butt"/>
<path d="M311.48,576.70 V521.30 Q311.48,520.40 312.38,520.40 H316.58 Q317.48,520.40 317.48,521.30 V576.70" fill="#ececec" stroke="#000" stroke-width="1.8" stroke-linejoin="round"/>
<text x="314.48" y="517.6999999999999" font-family='"Liberation Sans", sans-serif' font-size="10.5" font-weight="bold" text-anchor="middle" >a</text>
<path d="M322.51,576.70 V516.10 Q322.51,515.20 323.41,515.20 H327.61 Q328.51,515.20 328.51,516.10 V576.70" fill="#bebebe" stroke="#000" stroke-width="1.8" stroke-linejoin="round"/>
<text x="325.51" y="512.0" font-family='"Liberation Sans", sans-serif' font-size="10.5" font-weight="bold" text-anchor="middle" >b</text>
<path d="M333.54,576.70 V508.20 Q333.54,507.30 334.44,507.30 H338.64 Q339.54,507.30 339.54,508.20 V576.70" fill="#868686" stroke="#000" stroke-width="1.8" stroke-linejoin="round"/>
<text x="336.53999999999996" y="505.2" font-family='"Liberation Sans", sans-serif' font-size="10.5" font-weight="bold" text-anchor="middle" >c</text>
<path d="M344.57,576.70 V493.60 Q344.57,492.70 345.47,492.70 H349.67 Q350.57,492.70 350.57,493.60 V576.70" fill="#4a4a4a" stroke="#000" stroke-width="1.8" stroke-linejoin="round"/>
<text x="347.56999999999994" y="490.09999999999997" font-family='"Liberation Sans", sans-serif' font-size="10.5" font-weight="bold" text-anchor="middle" >d</text>
<path d="M355.60,576.70 V492.10 Q355.60,491.20 356.50,491.20 H360.70 Q361.60,491.20 361.60,492.10 V576.70" fill="#2a2a2a" stroke="#000" stroke-width="1.8" stroke-linejoin="round"/>
<text x="358.6" y="488.9" font-family='"Liberation Sans", sans-serif' font-size="10.5" font-weight="bold" text-anchor="middle" >e</text>
<text transform="translate(339.64,591.7) rotate(-45)" font-family='"Liberation Sans", sans-serif' font-size="14.0" font-weight="bold" text-anchor="end">n6</text>
<line x1="400.4" y1="577.6" x2="400.4" y2="581.7" stroke="#000" stroke-width="1.6" stroke-linecap="butt"/>
<path d="M375.34,576.70 V503.50 Q375.34,502.60 376.24,502.60 H380.44 Q381.34,502.60 381.34,503.50 V576.70" fill="#ececec" stroke="#000" stroke-width="1.8" stroke-linejoin="round"/>
<line x1="378.34000000000003" y1="502.2" x2="378.34000000000003" y2="500.4" stroke="#000" stroke-width="1.5" stroke-linecap="butt"/>
<line x1="376.54" y1="501.09999999999997" x2="380.14000000000004" y2="501.09999999999997" stroke="#000" stroke-width="1.4" stroke-linecap="butt"/>
<text x="378.34000000000003" y="498.9" font-family='"Liberation Sans", sans-serif' font-size="10.5" font-weight="bold" text-anchor="middle" >b</text>
<path d="M386.37,576.70 V504.70 Q386.37,503.80 387.27,503.80 H391.47 Q392.37,503.80 392.37,504.70 V576.70" fill="#bebebe" stroke="#000" stroke-width="1.8" stroke-linejoin="round"/>
<line x1="389.37" y1="503.4" x2="389.37" y2="501.4" stroke="#000" stroke-width="1.5" stroke-linecap="butt"/>
<line x1="387.57" y1="502.09999999999997" x2="391.17" y2="502.09999999999997" stroke="#000" stroke-width="1.4" stroke-linecap="butt"/>
<text x="389.37" y="499.9" font-family='"Liberation Sans", sans-serif' font-size="10.5" font-weight="bold" text-anchor="middle" >a</text>
<path d="M397.40,576.70 V504.70 Q397.40,503.80 398.30,503.80 H402.50 Q403.40,503.80 403.40,504.70 V576.70" fill="#868686" stroke="#000" stroke-width="1.8" stroke-linejoin="round"/>
<line x1="400.4" y1="503.4" x2="400.4" y2="501.4" stroke="#000" stroke-width="1.5" stroke-linecap="butt"/>
<line x1="398.59999999999997" y1="502.09999999999997" x2="402.2" y2="502.09999999999997" stroke="#000" stroke-width="1.4" stroke-linecap="butt"/>
<text x="400.4" y="499.9" font-family='"Liberation Sans", sans-serif' font-size="10.5" font-weight="bold" text-anchor="middle" >a</text>
<path d="M408.43,576.70 V504.70 Q408.43,503.80 409.33,503.80 H413.53 Q414.43,503.80 414.43,504.70 V576.70" fill="#4a4a4a" stroke="#000" stroke-width="1.8" stroke-linejoin="round"/>
<line x1="411.42999999999995" y1="503.4" x2="411.42999999999995" y2="501.4" stroke="#000" stroke-width="1.5" stroke-linecap="butt"/>
<line x1="409.62999999999994" y1="502.09999999999997" x2="413.22999999999996" y2="502.09999999999997" stroke="#000" stroke-width="1.4" stroke-linecap="butt"/>
<text x="411.42999999999995" y="499.9" font-family='"Liberation Sans", sans-serif' font-size="10.5" font-weight="bold" text-anchor="middle" >a</text>
<path d="M419.46,576.70 V505.60 Q419.46,504.70 420.36,504.70 H424.56 Q425.46,504.70 425.46,505.60 V576.70" fill="#2a2a2a" stroke="#000" stroke-width="1.8" stroke-linejoin="round"/>
<line x1="422.46000000000004" y1="504.29999999999995" x2="422.46000000000004" y2="502.4" stroke="#000" stroke-width="1.5" stroke-linecap="butt"/>
<line x1="420.66" y1="503.09999999999997" x2="424.26000000000005" y2="503.09999999999997" stroke="#000" stroke-width="1.4" stroke-linecap="butt"/>
<text x="422.46000000000004" y="500.9" font-family='"Liberation Sans", sans-serif' font-size="10.5" font-weight="bold" text-anchor="middle" >a</text>
<text transform="translate(403.5,591.7) rotate(-45)" font-family='"Liberation Sans", sans-serif' font-size="14.0" font-weight="bold" text-anchor="end">n9</text>
<text transform="translate(16.3,542.3) rotate(-90)" font-family='"Liberation Sans", sans-serif' font-size="14.55" stroke="#000" stroke-width="0.45">Percentage of total FAs</text>
<text x="240.4" y="341.2" font-family='"Liberation Sans", sans-serif' font-size="20.2" font-weight="bold" text-anchor="middle" >Zebrafish</text>
<text x="3.6" y="341.6" font-family='"Liberation Serif", serif' font-size="20.5" font-weight="bold" text-anchor="start" >C</text>
<rect x="483.0" y="30.400000000000002" width="17.4" height="10.9" rx="1.2" fill="#ececec" stroke="#000" stroke-width="1.6"/>
<text x="510.7" y="41.900000000000006" font-family='"Liberation Sans", sans-serif' font-size="15.6" font-weight="normal" text-anchor="start" >Control</text>
<rect x="483.0" y="56.0" width="17.4" height="10.9" rx="1.2" fill="#bebebe" stroke="#000" stroke-width="1.6"/>
<text x="510.7" y="66.60000000000001" font-family='"Liberation Sans", sans-serif' font-size="15.6" font-weight="normal" text-anchor="start" >Hi25</text>
<rect x="483.0" y="81.39999999999999" width="17.4" height="10.9" rx="1.2" fill="#868686" stroke="#000" stroke-width="1.6"/>
<text x="510.7" y="92.19999999999999" font-family='"Liberation Sans", sans-serif' font-size="15.6" font-weight="normal" text-anchor="start" >Hi50</text>
<rect x="580.6999999999999" y="44.3" width="17.4" height="10.9" rx="1.2" fill="#4a4a4a" stroke="#000" stroke-width="1.6"/>
<text x="608.4" y="55.5" font-family='"Liberation Sans", sans-serif' font-size="15.6" font-weight="normal" text-anchor="start" >Hi75</text>
<rect x="580.6999999999999" y="69.39999999999999" width="17.4" height="10.9" rx="1.2" fill="#2a2a2a" stroke="#000" stroke-width="1.6"/>
<text x="608.4" y="80.3" font-family='"Liberation Sans", sans-serif' font-size="15.6" font-weight="normal" text-anchor="start" >Hi100</text>
<rect x="483.0" y="353.40000000000003" width="17.4" height="10.9" rx="1.2" fill="#ececec" stroke="#000" stroke-width="1.6"/>
<text x="510.7" y="364.90000000000003" font-family='"Liberation Sans", sans-serif' font-size="15.6" font-weight="normal" text-anchor="start" >Control</text>
<rect x="483.0" y="379.0" width="17.4" height="10.9" rx="1.2" fill="#bebebe" stroke="#000" stroke-width="1.6"/>
<text x="510.7" y="389.59999999999997" font-family='"Liberation Sans", sans-serif' font-size="15.6" font-weight="normal" text-anchor="start" >Hi25</text>
<rect x="483.0" y="404.40000000000003" width="17.4" height="10.9" rx="1.2" fill="#868686" stroke="#000" stroke-width="1.6"/>
<text x="510.7" y="415.20000000000005" font-family='"Liberation Sans", sans-serif' font-size="15.6" font-weight="normal" text-anchor="start" >Hi50</text>
<rect x="580.6999999999999" y="367.3" width="17.4" height="10.9" rx="1.2" fill="#4a4a4a" stroke="#000" stroke-width="1.6"/>
<text x="608.4" y="378.5" font-family='"Liberation Sans", sans-serif' font-size="15.6" font-weight="normal" text-anchor="start" >Hi75</text>
<rect x="580.6999999999999" y="392.40000000000003" width="17.4" height="10.9" rx="1.2" fill="#2a2a2a" stroke="#000" stroke-width="1.6"/>
<text x="608.4" y="403.3" font-family='"Liberation Sans", sans-serif' font-size="15.6" font-weight="normal" text-anchor="start" >Hi100</text>
<line x1="490.4" y1="125.7" x2="490.4" y2="254.05" stroke="#000" stroke-width="1.6" stroke-linecap="butt"/>
<line x1="489.59999999999997" y1="253.25" x2="681.0" y2="253.25" stroke="#000" stroke-width="1.6" stroke-linecap="butt"/>
<line x1="487.0" y1="253.25" x2="490.4" y2="253.25" stroke="#000" stroke-width="1.4" stroke-linecap="butt"/>
<text transform="translate(485.10,256.15) scale(0.8,1)" font-family='"Liberation Sans", sans-serif' font-size="11.2" font-weight="bold" text-anchor="end" >0</text>
<line x1="487.0" y1="221.55" x2="490.4" y2="221.55" stroke="#000" stroke-width="1.4" stroke-linecap="butt"/>
<text transform="translate(485.10,224.45) scale(0.8,1)" font-family='"Liberation Sans", sans-serif' font-size="11.2" font-weight="bold" text-anchor="end" >1</text>
<line x1="487.0" y1="189.9" x2="490.4" y2="189.9" stroke="#000" stroke-width="1.4" stroke-linecap="butt"/>
<text transform="translate(485.10,192.80) scale(0.8,1)" font-family='"Liberation Sans", sans-serif' font-size="11.2" font-weight="bold" text-anchor="end" >2</text>
<line x1="487.0" y1="158.2" x2="490.4" y2="158.2" stroke="#000" stroke-width="1.4" stroke-linecap="butt"/>
<text transform="translate(485.10,161.10) scale(0.8,1)" font-family='"Liberation Sans", sans-serif' font-size="11.2" font-weight="bold" text-anchor="end" >3</text>
<line x1="487.0" y1="126.5" x2="490.4" y2="126.5" stroke="#000" stroke-width="1.4" stroke-linecap="butt"/>
<text transform="translate(485.10,129.40) scale(0.8,1)" font-family='"Liberation Sans", sans-serif' font-size="11.2" font-weight="bold" text-anchor="end" >4</text>
<path d="M496.90,253.25 V247.10 H522.10 V253.25" fill="#ececec" stroke="#000" stroke-width="1.4" stroke-linejoin="round"/>
<line x1="509.5" y1="246.9" x2="509.5" y2="244.89999999999998" stroke="#000" stroke-width="1.5" stroke-linecap="butt"/>
<line x1="503.5" y1="245.49999999999997" x2="515.5" y2="245.49999999999997" stroke="#000" stroke-width="1.5" stroke-linecap="butt"/>
<text x="509.5" y="243.49999999999997" font-family='"Liberation Sans", sans-serif' font-size="11" font-weight="bold" text-anchor="middle" >a</text>
<line x1="509.5" y1="254.15" x2="509.5" y2="257.25" stroke="#000" stroke-width="1.5" stroke-linecap="butt"/>
<text transform="translate(511.5,264.65) rotate(-45)" font-family='"Liberation Sans", sans-serif' font-size="9.65" font-weight="bold" text-anchor="end">Hi0</text>
<path d="M534.90,253.25 V240.60 H560.10 V253.25" fill="#bebebe" stroke="#000" stroke-width="1.4" stroke-linejoin="round"/>
<line x1="547.5" y1="240.4" x2="547.5" y2="236.5" stroke="#000" stroke-width="1.5" stroke-linecap="butt"/>
<line x1="541.5" y1="237.1" x2="553.5" y2="237.1" stroke="#000" stroke-width="1.5" stroke-linecap="butt"/>
<text x="547.5" y="235.1" font-family='"Liberation Sans", sans-serif' font-size="11" font-weight="bold" text-anchor="middle" >b</text>
<line x1="547.5" y1="254.15" x2="547.5" y2="257.25" stroke="#000" stroke-width="1.5" stroke-linecap="butt"/>
<text transform="translate(549.5,264.65) rotate(-45)" font-family='"Liberation Sans", sans-serif' font-size="9.65" font-weight="bold" text-anchor="end">Hi25</text>
<path d="M572.90,253.25 V221.80 H598.10 V253.25" fill="#868686" stroke="#000" stroke-width="1.4" stroke-linejoin="round"/>
<line x1="585.5" y1="221.6" x2="585.5" y2="218.1" stroke="#000" stroke-width="1.5" stroke-linecap="butt"/>
<line x1="579.5" y1="218.7" x2="591.5" y2="218.7" stroke="#000" stroke-width="1.5" stroke-linecap="butt"/>
<text x="585.5" y="216.7" font-family='"Liberation Sans", sans-serif' font-size="11" font-weight="bold" text-anchor="middle" >c</text>
<line x1="585.5" y1="254.15" x2="585.5" y2="257.25" stroke="#000" stroke-width="1.5" stroke-linecap="butt"/>
<text transform="translate(587.5,264.65) rotate(-45)" font-family='"Liberation Sans", sans-serif' font-size="9.65" font-weight="bold" text-anchor="end">Hi50</text>
<path d="M610.90,253.25 V199.40 H636.10 V253.25" fill="#4a4a4a" stroke="#000" stroke-width="1.4" stroke-linejoin="round"/>
<line x1="623.5" y1="199.2" x2="623.5" y2="195.7" stroke="#000" stroke-width="1.5" stroke-linecap="butt"/>
<line x1="617.5" y1="196.29999999999998" x2="629.5" y2="196.29999999999998" stroke="#000" stroke-width="1.5" stroke-linecap="butt"/>
<text x="623.5" y="194.29999999999998" font-family='"Liberation Sans", sans-serif' font-size="11" font-weight="bold" text-anchor="middle" >d</text>
<line x1="623.5" y1="254.15" x2="623.5" y2="257.25" stroke="#000" stroke-width="1.5" stroke-linecap="butt"/>
<text transform="translate(625.5,264.65) rotate(-45)" font-family='"Liberation Sans", sans-serif' font-size="9.65" font-weight="bold" text-anchor="end">Hi75</text>
<path d="M648.80,253.25 V164.90 H674.00 V253.25" fill="#2a2a2a" stroke="#000" stroke-width="1.4" stroke-linejoin="round"/>
<line x1="661.4" y1="164.7" x2="661.4" y2="157.79999999999998" stroke="#000" stroke-width="1.5" stroke-linecap="butt"/>
<line x1="655.4" y1="158.39999999999998" x2="667.4" y2="158.39999999999998" stroke="#000" stroke-width="1.5" stroke-linecap="butt"/>
<text x="661.4" y="156.39999999999998" font-family='"Liberation Sans", sans-serif' font-size="11" font-weight="bold" text-anchor="middle" >e</text>
<line x1="661.4" y1="254.15" x2="661.4" y2="257.25" stroke="#000" stroke-width="1.5" stroke-linecap="butt"/>
<text transform="translate(663.4,264.65) rotate(-45)" font-family='"Liberation Sans", sans-serif' font-size="9.65" font-weight="bold" text-anchor="end">Hi100</text>
<text x="585.5" y="119.3" font-family='"Liberation Sans", sans-serif' font-size="12.1" font-weight="bold" text-anchor="middle" >n6/n3 ratio</text>
<text x="456.0" y="119.7" font-family='"Liberation Serif", serif' font-size="20.5" font-weight="bold" text-anchor="start" >B</text>
<line x1="490.4" y1="448.8" x2="490.4" y2="577.15" stroke="#000" stroke-width="1.6" stroke-linecap="butt"/>
<line x1="489.59999999999997" y1="576.35" x2="681.0" y2="576.35" stroke="#000" stroke-width="1.6" stroke-linecap="butt"/>
<line x1="487.0" y1="576.35" x2="490.4" y2="576.35" stroke="#000" stroke-width="1.4" stroke-linecap="butt"/>
<text transform="translate(485.10,579.25) scale(0.8,1)" font-family='"Liberation Sans", sans-serif' font-size="11.2" font-weight="bold" text-anchor="end" >0.0</text>
<line x1="487.0" y1="544.65" x2="490.4" y2="544.65" stroke="#000" stroke-width="1.4" stroke-linecap="butt"/>
<text transform="translate(485.10,547.55) scale(0.8,1)" font-family='"Liberation Sans", sans-serif' font-size="11.2" font-weight="bold" text-anchor="end" >0.5</text>
<line x1="487.0" y1="513.0" x2="490.4" y2="513.0" stroke="#000" stroke-width="1.4" stroke-linecap="butt"/>
<text transform="translate(485.10,515.90) scale(0.8,1)" font-family='"Liberation Sans", sans-serif' font-size="11.2" font-weight="bold" text-anchor="end" >1.0</text>
<line x1="487.0" y1="481.3" x2="490.4" y2="481.3" stroke="#000" stroke-width="1.4" stroke-linecap="butt"/>
<text transform="translate(485.10,484.20) scale(0.8,1)" font-family='"Liberation Sans", sans-serif' font-size="11.2" font-weight="bold" text-anchor="end" >1.5</text>
<line x1="487.0" y1="449.6" x2="490.4" y2="449.6" stroke="#000" stroke-width="1.4" stroke-linecap="butt"/>
<text transform="translate(485.10,452.50) scale(0.8,1)" font-family='"Liberation Sans", sans-serif' font-size="11.2" font-weight="bold" text-anchor="end" >2.0</text>
<path d="M496.90,576.35 V549.50 H522.10 V576.35" fill="#ececec" stroke="#000" stroke-width="1.4" stroke-linejoin="round"/>
<line x1="503.5" y1="548.9000000000001" x2="515.5" y2="548.9000000000001" stroke="#000" stroke-width="1.5" stroke-linecap="butt"/>
<text x="509.5" y="546.9000000000001" font-family='"Liberation Sans", sans-serif' font-size="11" font-weight="bold" text-anchor="middle" >a</text>
<line x1="509.5" y1="577.25" x2="509.5" y2="580.35" stroke="#000" stroke-width="1.5" stroke-linecap="butt"/>
<text transform="translate(511.5,587.75) rotate(-45)" font-family='"Liberation Sans", sans-serif' font-size="9.65" font-weight="bold" text-anchor="end">Control</text>
<path d="M534.90,576.35 V542.80 H560.10 V576.35" fill="#bebebe" stroke="#000" stroke-width="1.4" stroke-linejoin="round"/>
<line x1="547.5" y1="542.6" x2="547.5" y2="541.2" stroke="#000" stroke-width="1.5" stroke-linecap="butt"/>
<line x1="541.5" y1="541.8000000000001" x2="553.5" y2="541.8000000000001" stroke="#000" stroke-width="1.5" stroke-linecap="butt"/>
<text x="547.5" y="539.8000000000001" font-family='"Liberation Sans", sans-serif' font-size="11" font-weight="bold" text-anchor="middle" >b</text>
<line x1="547.5" y1="577.25" x2="547.5" y2="580.35" stroke="#000" stroke-width="1.5" stroke-linecap="butt"/>
<text transform="translate(549.5,587.75) rotate(-45)" font-family='"Liberation Sans", sans-serif' font-size="9.65" font-weight="bold" text-anchor="end">Hi25</text>
<path d="M572.90,576.35 V525.30 H598.10 V576.35" fill="#868686" stroke="#000" stroke-width="1.4" stroke-linejoin="round"/>
<line x1="585.5" y1="525.1" x2="585.5" y2="522.9000000000001" stroke="#000" stroke-width="1.5" stroke-linecap="butt"/>
<line x1="579.5" y1="523.5000000000001" x2="591.5" y2="523.5000000000001" stroke="#000" stroke-width="1.5" stroke-linecap="butt"/>
<text x="585.5" y="521.5000000000001" font-family='"Liberation Sans", sans-serif' font-size="11" font-weight="bold" text-anchor="middle" >c</text>
<line x1="585.5" y1="577.25" x2="585.5" y2="580.35" stroke="#000" stroke-width="1.5" stroke-linecap="butt"/>
<text transform="translate(587.5,587.75) rotate(-45)" font-family='"Liberation Sans", sans-serif' font-size="9.65" font-weight="bold" text-anchor="end">Hi50</text>
<path d="M610.90,576.35 V499.50 H636.10 V576.35" fill="#4a4a4a" stroke="#000" stroke-width="1.4" stroke-linejoin="round"/>
<line x1="623.5" y1="499.3" x2="623.5" y2="493.09999999999997" stroke="#000" stroke-width="1.5" stroke-linecap="butt"/>
<line x1="617.5" y1="493.7" x2="629.5" y2="493.7" stroke="#000" stroke-width="1.5" stroke-linecap="butt"/>
<text x="623.5" y="491.7" font-family='"Liberation Sans", sans-serif' font-size="11" font-weight="bold" text-anchor="middle" >d</text>
<line x1="623.5" y1="577.25" x2="623.5" y2="580.35" stroke="#000" stroke-width="1.5" stroke-linecap="butt"/>
<text transform="translate(625.5,587.75) rotate(-45)" font-family='"Liberation Sans", sans-serif' font-size="9.65" font-weight="bold" text-anchor="end">Hi75</text>
<path d="M648.80,576.35 V475.20 H674.00 V576.35" fill="#2a2a2a" stroke="#000" stroke-width="1.4" stroke-linejoin="round"/>
<line x1="661.4" y1="475.0" x2="661.4" y2="468.5" stroke="#000" stroke-width="1.5" stroke-linecap="butt"/>
<line x1="655.4" y1="469.1" x2="667.4" y2="469.1" stroke="#000" stroke-width="1.5" stroke-linecap="butt"/>
<text x="661.4" y="467.1" font-family='"Liberation Sans", sans-serif' font-size="11" font-weight="bold" text-anchor="middle" >e</text>
<line x1="661.4" y1="577.25" x2="661.4" y2="580.35" stroke="#000" stroke-width="1.5" stroke-linecap="butt"/>
<text transform="translate(663.4,587.75) rotate(-45)" font-family='"Liberation Sans", sans-serif' font-size="9.65" font-weight="bold" text-anchor="end">Hi100</text>
<text x="585.5" y="442.40000000000003" font-family='"Liberation Sans", sans-serif' font-size="12.1" font-weight="bold" text-anchor="middle" >n6/n3 ratio</text>
<text x="452.0" y="442.8" font-family='"Liberation Serif", serif' font-size="20.5" font-weight="bold" text-anchor="start" >D</text>
</svg>
</body></html>
